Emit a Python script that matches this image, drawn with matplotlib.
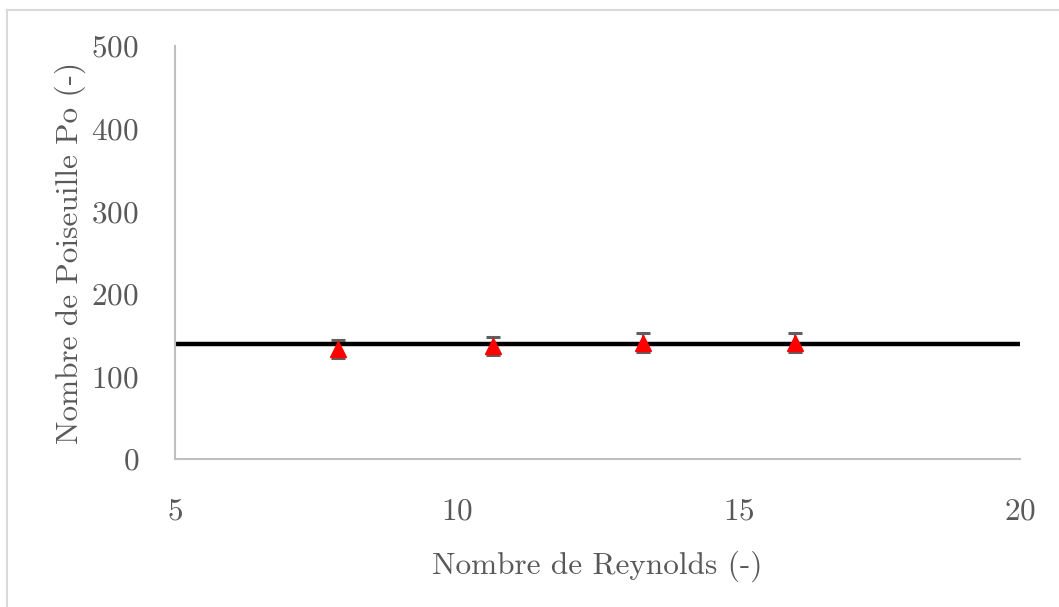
import matplotlib
matplotlib.use("Agg")
import matplotlib.pyplot as plt
from matplotlib.lines import Line2D

plt.rcParams["font.family"] = ["cmr10", "DejaVu Serif"]
plt.rcParams["axes.formatter.use_mathtext"] = True

# Measured data
reynolds = [7.9, 10.65, 13.3, 16.0]
poiseuille = [133, 137, 141, 141]
poiseuille_err = [10.5, 11, 12, 12]

# Theoretical Poiseuille number
po_theory = 139
re_range = [5, 20]

x_ticks = [5, 10, 15, 20]
y_ticks = [0, 100, 200, 300, 400, 500]

text_color = "#595959"
spine_color = "#BFBFBF"

fig = plt.figure(figsize=(10.59, 6.07), dpi=100)
ax = fig.add_axes([0.1653, 0.2438, 0.9632 - 0.1653, 0.9242 - 0.2438])

ax.plot(re_range, [po_theory, po_theory], color="black", lw=3.2, zorder=2,
        solid_capstyle="butt")
ax.errorbar(reynolds, poiseuille, yerr=poiseuille_err, fmt="^", color="red",
            markersize=11.5, ecolor="#5f5f5f", elinewidth=1.5, capsize=5,
            capthick=2.2, zorder=3)

ax.set_xlim(5, 20)
ax.set_ylim(0, 500)
ax.set_xticks(x_ticks)
ax.set_yticks(y_ticks)
ax.tick_params(length=0, labelsize=22.5, colors=text_color)
ax.tick_params(axis="x", pad=28)
ax.tick_params(axis="y", pad=26)

for side in ("top", "right"):
    ax.spines[side].set_visible(False)
for side in ("left", "bottom"):
    ax.spines[side].set_color(spine_color)
    ax.spines[side].set_linewidth(1.5)

ax.set_xlabel("Nombre de Reynolds (-)", fontsize=22.5, color=text_color, va="center")
ax.set_ylabel("Nombre de Poiseuille Po (-)", fontsize=22.5, color=text_color, va="center")
ax.xaxis.set_label_coords(0.5, (459 - 566) / 413)
ax.yaxis.set_label_coords((70 - 175) / 845, 0.5)

# Chart area outline
fig.add_artist(Line2D([7 / 1059, 1.0], [1 - 9.5 / 607, 1 - 9.5 / 607],
                      transform=fig.transFigure, color="#D9D9D9", lw=1.5))
fig.add_artist(Line2D([7 / 1059, 7 / 1059], [0.0, 1 - 9.5 / 607],
                      transform=fig.transFigure, color="#D9D9D9", lw=1.5))

fig.savefig("out.png", dpi=100)
